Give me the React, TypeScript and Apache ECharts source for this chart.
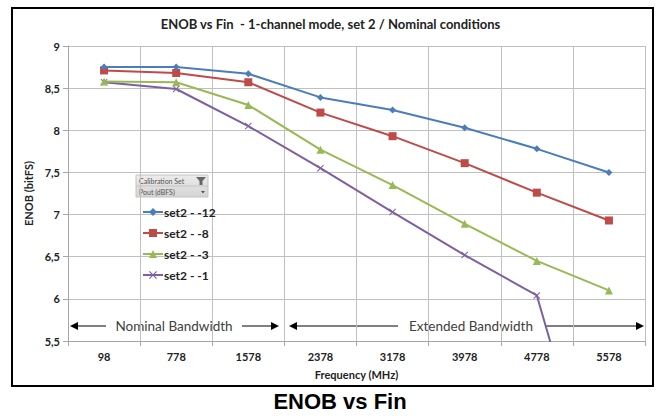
import React, { useEffect, useRef } from "react";
import * as echarts from "echarts";

const frequencies = ["98", "778", "1578", "2378", "3178", "3978", "4778", "5578"];
const set2m12 = [8.75, 8.75, 8.67, 8.39, 8.24, 8.03, 7.78, 7.5];
const set2m8 = [8.71, 8.68, 8.57, 8.21, 7.93, 7.61, 7.26, 6.93];
const set2m3 = [8.58, 8.57, 8.3, 7.77, 7.35, 6.89, 6.45, 6.1];
const set2m1 = [8.57, 8.49, 8.05, 7.55, 7.03, 6.52, 6.04, 3.1];
const seriesNames = ["set2 - -12", "set2 - -8", "set2 - -3", "set2 - -1"];
const yTicks = ["9", "8,5", "8", "7,5", "7", "6,5", "6", "5,5"];

const FONT = "Lato, 'Open Sans', sans-serif";
const CROSS = "path://M0,1L1,0L5,4L9,0L10,1L6,5L10,9L9,10L5,6L1,10L0,9L4,5Z";

export default function App() {
  const ref = useRef<HTMLDivElement>(null);
  useEffect(() => {
    if (!ref.current) return;
    const chart = echarts.init(ref.current, null, { renderer: "svg" });
    const colors = ["#4a7ebb", "#be4b48", "#98b954", "#7d60a0"];
    const symbols = ["diamond", "rect", "triangle", CROSS];
    const sizes = [7, 8, 8, 7];
    const datasets = [set2m12, set2m8, set2m3, set2m1];
    const arrowY = 326;
    const gray = "#404040";
    const seg = (x1: number, x2: number) => ({
      type: "line",
      shape: { x1, y1: arrowY, x2, y2: arrowY },
      style: { stroke: "#000", lineWidth: 1 },
    });
    const head = (x: number, dir: number) => ({
      type: "polygon",
      shape: { points: [[x, arrowY], [x - dir * 8, arrowY - 4], [x - dir * 8, arrowY + 4]] },
      style: { fill: "#000" },
    });
    chart.setOption({
      animation: false,
      color: colors,
      title: {
        text: "ENOB vs Fin  - 1-channel mode, set 2 / Nominal conditions",
        left: "center",
        top: 12,
        textStyle: { fontFamily: FONT, fontSize: 13, fontWeight: "bold", color: "#222" },
      },
      legend: {
        orient: "vertical",
        left: 137,
        top: 201,
        itemGap: 9,
        itemWidth: 20,
        itemHeight: 10,
        data: seriesNames,
        textStyle: { fontFamily: FONT, fontSize: 12, fontWeight: "bold", color: "#222", padding: [0, 0, 0, -4] },
      },
      grid: { left: 68, right: 16, top: 46, bottom: 77, containLabel: false },
      xAxis: {
        type: "category",
        data: frequencies,
        name: "Frequency (MHz)",
        nameLocation: "middle",
        nameGap: 28,
        nameTextStyle: { fontFamily: FONT, fontSize: 11, fontWeight: "bold", color: "#222" },
        axisLine: { lineStyle: { color: "#a6a6a6" } },
        axisTick: { show: true, length: 5, lineStyle: { color: "#a6a6a6" } },
        axisLabel: { fontFamily: FONT, fontSize: 11, fontWeight: "bold", color: "#222", margin: 10 },
        splitLine: { show: true, lineStyle: { color: "#c0c0c0" } },
      },
      yAxis: {
        type: "value",
        min: 5.5,
        max: 9,
        interval: 0.5,
        name: "ENOB (bitFS)",
        nameLocation: "middle",
        nameGap: 30,
        nameRotate: 90,
        nameTextStyle: { fontFamily: FONT, fontSize: 11, fontWeight: "bold", color: "#222" },
        axisLine: { show: true, lineStyle: { color: "#a6a6a6" } },
        axisTick: { show: true, length: 5, lineStyle: { color: "#a6a6a6" } },
        axisLabel: {
          fontFamily: FONT,
          fontSize: 11,
          fontWeight: "bold",
          color: "#222",
          margin: 8,
          formatter: (v: number) => yTicks[Math.round((9 - v) / 0.5)] ?? String(v),
        },
        splitLine: { lineStyle: { color: "#c0c0c0" } },
      },
      series: datasets.map((d, i) => ({
        name: seriesNames[i],
        type: "line",
        data: d,
        symbol: symbols[i],
        symbolSize: sizes[i],
        clip: true,
        lineStyle: { width: 2, color: colors[i] },
        itemStyle: { color: colors[i] },
        z: 3 + (3 - i),
      })),
      graphic: [
        {
          type: "rect",
          shape: { x: 12, y: 8, width: 641, height: 378 },
          style: { fill: "none", stroke: "#000", lineWidth: 2 },
          silent: true,
        },
        {
          type: "text",
          x: 340,
          y: 401,
          style: {
            text: "ENOB vs Fin",
            fontFamily: "'Liberation Sans', Arial, sans-serif",
            fontSize: 22,
            fontWeight: "bold",
            fill: "#000",
            align: "center",
            verticalAlign: "middle",
          },
        },
        // legend header (pivot filter)
        {
          type: "rect",
          shape: { x: 136, y: 175, width: 72, height: 22 },
          style: {
            fill: new echarts.graphic.LinearGradient(0, 0, 0, 1, [
              { offset: 0, color: "#ececec" },
              { offset: 1, color: "#d4d4d4" },
            ]),
            stroke: "#c4c4c4",
            lineWidth: 1,
          },
        },
        {
          type: "line",
          shape: { x1: 136, y1: 186, x2: 208, y2: 186 },
          style: { stroke: "#c4c4c4", lineWidth: 1 },
        },
        {
          type: "text",
          x: 139,
          y: 181,
          style: { text: "Calibration Set", fontFamily: FONT, fontSize: 7, fill: "#555", verticalAlign: "middle" },
        },
        {
          type: "text",
          x: 139,
          y: 192,
          style: { text: "Pout (dBFS)", fontFamily: FONT, fontSize: 7, fill: "#555", verticalAlign: "middle" },
        },
        {
          type: "polygon",
          shape: { points: [[196, 177], [206, 177], [202.5, 181], [202.5, 185], [199.5, 185], [199.5, 181]] },
          style: { fill: "#666" },
        },
        {
          type: "polygon",
          shape: { points: [[201, 191], [205, 191], [203, 193.5]] },
          style: { fill: "#555" },
        },
        // bandwidth annotations
        seg(72, 106),
        seg(242, 277),
        head(70, -1),
        head(279, 1),
        {
          type: "text",
          x: 174,
          y: arrowY,
          style: {
            text: "Nominal Bandwidth",
            fontFamily: FONT,
            fontSize: 13.5,
            fill: gray,
            align: "center",
            verticalAlign: "middle",
          },
        },
        seg(291, 398),
        seg(545, 641),
        head(289, -1),
        head(644, 1),
        {
          type: "text",
          x: 471,
          y: arrowY,
          style: {
            text: "Extended Bandwidth",
            fontFamily: FONT,
            fontSize: 13.5,
            fill: gray,
            align: "center",
            verticalAlign: "middle",
          },
        },
      ],
    });
    return () => chart.dispose();
  }, []);
  return <div ref={ref} style={{ width: 661, height: 418, position: "absolute", left: 0, top: 0 }} />;
}
